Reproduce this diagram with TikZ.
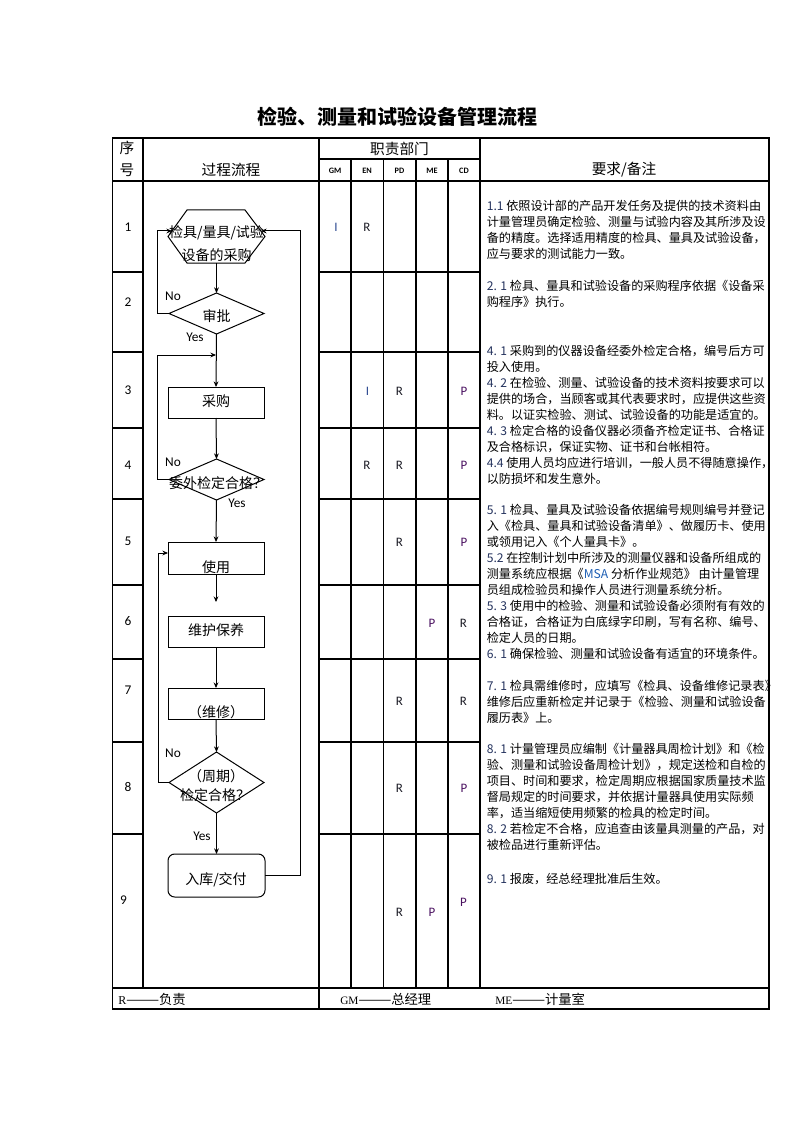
\documentclass[tikz,border=0pt]{standalone}
\usepackage{fontspec}
\newfontfamily\cjk{Noto Sans CJK SC}
\newfontfamily\lat{Carlito}
\newfontfamily\lserif{Liberation Serif}
\usetikzlibrary{shapes.geometric,calc,arrows.meta}
\definecolor{numc}{HTML}{25335E}
\definecolor{msac}{HTML}{1E5FB4}
\definecolor{pc}{HTML}{4A1060}
\definecolor{ic}{HTML}{2A4890}
\definecolor{rc}{HTML}{1A1A24}
\tikzset{
  tbl/.style={line width=0.8pt},
  conn/.style={line width=0.75pt,-{Stealth[length=4.2pt,width=3.6pt]}},
  shp/.style={draw,line width=0.75pt,inner sep=0pt,outer sep=0pt},
  box/.style={shp,rectangle,minimum width=72pt},
  dia/.style={shp,diamond,minimum width=71.25pt},
  ftx/.style={font=\cjk\fontsize{10.5}{12}\selectfont,inner sep=0pt},
  yn/.style={font=\lat\fontsize{10}{11}\selectfont,inner sep=0pt},
  duty/.style={font=\lat\fontsize{9.7}{11}\selectfont,inner sep=0pt},
  rownum/.style={font=\lat\fontsize{10}{11}\selectfont,inner sep=0pt},
  hd/.style={font=\cjk\fontsize{11}{13}\selectfont,inner sep=0pt},
  dept/.style={font=\lat\bfseries\fontsize{6.2}{7}\selectfont,inner sep=0pt},
  req/.style={font=\cjk\fontsize{9.1}{12}\selectfont,inner sep=0pt,align=left,anchor=north west},
  foot/.style={font=\cjk\fontsize{10}{12}\selectfont,inner sep=0pt,anchor=west},
}
\newcommand\nm[1]{\textcolor{numc}{#1}}
\begin{document}
\begin{tikzpicture}[x=0.75pt,y=-0.75pt]
\fill[white] (0,0) rectangle (794,1123);
\useasboundingbox (0,0) rectangle (794,1123);

% title
\node[font=\cjk\bfseries\fontsize{15}{18}\selectfont,inner sep=0pt] (title) at (397.5,117) {检验、测量和试验设备管理流程};

% table
\draw[tbl] (112.5,138) rectangle (769,1009);
\draw[tbl] (112.5,181) -- (769,181);
\draw[tbl] (319,159) -- (480,159);
\draw[tbl] (112.5,988) -- (769,988);
\foreach \y in {272,352,428,499,585,659,742,834} {
  \draw[tbl] (112.5,\y) -- (143,\y);
  \draw[tbl] (319,\y) -- (480,\y);
}
\draw[tbl] (143,138) -- (143,988);
\draw[tbl] (319,138) -- (319,1009);
\foreach \x in {351,383.5,416,448} \draw[tbl] (\x,159) -- (\x,988);
\draw[tbl] (480,138) -- (480,988);

% header
\node[hd] (hxu) at (127,148) {序};
\node[hd] (hhao) at (127,170) {号};
\node[hd] (hflow) at (231,170) {过程流程};
\node[hd] (hdept) at (399.5,148.5) {职责部门};
\node[hd] (hreq) at (624,170) {要求/备注};
\node[dept] (hgm) at (335,170.5) {GM};
\node[dept] (hen) at (367,170.5) {EN};
\node[dept] (hpd) at (399.5,170.5) {PD};
\node[dept] (hme) at (432,170.5) {ME};
\node[dept] (hcd) at (464,170.5) {CD};

% row numbers
\node[rownum] (n1) at (128,227) {1};
\node[rownum] (n2) at (128,302.5) {2};
\node[rownum] (n3) at (128,390.5) {3};
\node[rownum] (n4) at (128,465) {4};
\node[rownum] (n5) at (128,541.5) {5};
\node[rownum] (n6) at (128,621.5) {6};
\node[rownum] (n7) at (128,690) {7};
\node[rownum] (n8) at (128,787) {8};
\node[rownum] (n9) at (123.5,900) {9};

% flow shapes
\node[shp,draw=none,rectangle,minimum width=72.75pt,minimum height=39.75pt] (hex) at (216.5,236.5) {};
\draw[line width=0.75pt] ($(hex.north west)+(19,0)$) -- ($(hex.north east)+(-20,0)$) -- (hex.east)
  -- ($(hex.south east)+(-20,0)$) -- ($(hex.south west)+(19,0)$) -- (hex.west) -- cycle;
\node[dia,minimum height=30.75pt] (d1) at (216.5,313.5) {};
\node[box,minimum height=23.25pt] (r1) at (216,402.5) {};
\node[dia,minimum height=30.75pt] (d2) at (216.5,479.5) {};
\node[box,minimum height=24pt] (r2) at (216,558) {};
\node[box,minimum height=23.25pt] (r3) at (216,631.5) {};
\node[box,minimum height=23.25pt] (r4) at (216,703.5) {};
\node[dia,minimum height=45.75pt] (d3) at (216.5,782.5) {};
\node[shp,rectangle,rounded corners=5pt,minimum width=72.75pt,minimum height=32.25pt] (r5) at (216.5,875.5) {};

% flow texts
\node[ftx] (t0a) at (216.5,233) {检具/量具/试验};
\node[ftx] (t0b) at (216.5,255) {设备的采购};
\node[ftx] (t1) at (216.5,316) {审批};
\node[ftx] (t2) at (216,401) {采购};
\node[ftx] (t3) at (218,483) {委外检定合格？};
\node[ftx] (t4) at (216,567) {使用};
\node[ftx] (t5) at (216,630) {维护保养};
\node[ftx] (t6) at (216,712) {（维修）};
\node[ftx] (t7a) at (216,776) {（周期）};
\node[ftx] (t7b) at (215,795) {检定合格？};
\node[ftx] (t8) at (216,880) {入库/交付};

% connectors
\coordinate (hexL) at (172,231);
\coordinate (hexR) at (261,231);
\coordinate (j1) at (216,355);
\coordinate (r2in) at ($(r2.west)+(0,-5)$);
\coordinate (r3top) at ($(r3.north)+(0,-14)$);
\draw[conn] (hex.south) -- (d1.north);
\draw[conn] (d1.west) -- ++(-12,0) |- (hexL);
\draw[conn] (d1.south) -- (r1.north);
\draw[conn] (d2.west) -- ++(-12,0) |- (j1);
\draw[conn] (r1.south) -- (d2.north);
\draw[conn] (d2.south) -- (r2.north);
\draw[conn] (d3.west) -- ++(-11,0) |- (r2in);
\draw[conn] (r2.south) -- (r3top);
\draw[conn] (r3.south) -- (r4.north);
\draw[conn] (r4.south) -- (d3.north);
\draw[conn] (d3.south) -- (r5.north);
\draw[conn] (r5.east) -- ++(35,0) |- (hexR);

% yes / no
\node[yn] (no1) at (173,296) {No};
\node[yn] (yes1) at (195,337) {Yes};
\node[yn] (no2) at (173,462) {No};
\node[yn] (yes2) at (237,503) {Yes};
\node[yn] (no3) at (173,753) {No};
\node[yn] (yes3) at (202,836) {Yes};

% duty letters
\node[duty,text=ic] (a1) at (336,227.5) {I};
\node[duty,text=rc] (a2) at (367,227.5) {R};
\node[duty,text=ic] (c1) at (367.5,391.5) {I};
\node[duty,text=rc] (c2) at (399.5,391.5) {R};
\node[duty,text=pc] (c3) at (464,391.5) {P};
\node[duty,text=rc] (e1) at (367,465) {R};
\node[duty,text=rc] (e2) at (399.5,465) {R};
\node[duty,text=pc] (e3) at (464,465) {P};
\node[duty,text=rc] (f1) at (399.5,542.5) {R};
\node[duty,text=pc] (f2) at (464,542.5) {P};
\node[duty,text=pc] (g1) at (432,623) {P};
\node[duty,text=rc] (g2) at (463.5,623) {R};
\node[duty,text=rc] (h1) at (399.5,701) {R};
\node[duty,text=rc] (h2) at (463.5,701) {R};
\node[duty,text=rc] (k1) at (399.5,788) {R};
\node[duty,text=pc] (k2) at (464,788) {P};
\node[duty,text=rc] (m1) at (399.5,912) {R};
\node[duty,text=pc] (m2) at (432,912) {P};
\node[duty,text=pc] (m3) at (463.5,902) {P};

% requirements
\node[req] (b1) at (486.5,199.6) {\rule{0pt}{8pt}\nm{1.1} 依照设计部的产品开发任务及提供的技术资料由\\
计量管理员确定检验、测量与试验内容及其所涉及设\\
备的精度。选择适用精度的检具、量具及试验设备，\\
应与要求的测试能力一致。};
\node[req] (b2) at (486.5,279.6) {\rule{0pt}{8pt}\nm{2. 1} 检具、量具和试验设备的采购程序依据《设备采\\
购程序》执行。};
\node[req] (b4) at (486.5,344.6) {\rule{0pt}{8pt}\nm{4. 1} 采购到的仪器设备经委外检定合格，编号后方可\\
投入使用。\\
\nm{4. 2} 在检验、测量、试验设备的技术资料按要求可以\\
提供的场合，当顾客或其代表要求时，应提供这些资\\
料。以证实检验、测试、试验设备的功能是适宜的。\\
\nm{4. 3} 检定合格的设备仪器必须备齐检定证书、合格证\\
及合格标识，保证实物、证书和台帐相符。\\
\nm{4.4} 使用人员均应进行培训，一般人员不得随意操作，\\
以防损坏和发生意外。};
\node[req] (b5) at (486.5,503.6) {\rule{0pt}{8pt}\nm{5. 1} 检具、量具及试验设备依据编号规则编号并登记\\
入《检具、量具和试验设备清单》、做履历卡、使用\\
或领用记入《个人量具卡》。\\
\nm{5.2} 在控制计划中所涉及的测量仪器和设备所组成的\\
测量系统应根据《\textcolor{msac}{MSA} 分析作业规范》 由计量管理\\
员组成检验员和操作人员进行测量系统分析。\\
\nm{5. 3} 使用中的检验、测量和试验设备必须附有有效的\\
合格证，合格证为白底绿字印刷，写有名称、编号、\\
检定人员的日期。\\
\nm{6. 1} 确保检验、测量和试验设备有适宜的环境条件。};
\node[req] (b7) at (486.5,679.6) {\rule{0pt}{8pt}\nm{7. 1} 检具需维修时，应填写《检具、设备维修记录表》\\
维修后应重新检定并记录于《检验、测量和试验设备\\
履历表》上。};
\node[req] (b8) at (486.5,742.6) {\rule{0pt}{8pt}\nm{8. 1} 计量管理员应编制《计量器具周检计划》和《检\\
验、测量和试验设备周检计划》，规定送检和自检的\\
项目、时间和要求，检定周期应根据国家质量技术监\\
督局规定的时间要求，并依据计量器具使用实际频\\
率，适当缩短使用频繁的检具的检定时间。\\
\nm{8. 2} 若检定不合格，应追查由该量具测量的产品，对\\
被检品进行重新评估。};
\node[req] (b9) at (486.5,872.6) {\rule{0pt}{8pt}\nm{9. 1} 报废，经总经理批准后生效。};

% footer
\node[foot] (ft1) at (118,999) {{\lserif\fontsize{9}{10}\selectfont R}———负责};
\node[foot] (ft2) at (340,999) {{\lserif\fontsize{8.5}{10}\selectfont GM}———总经理};
\node[foot] (ft3) at (495,999) {{\lserif\fontsize{8.5}{10}\selectfont ME}———计量室};
\end{tikzpicture}
\end{document}
